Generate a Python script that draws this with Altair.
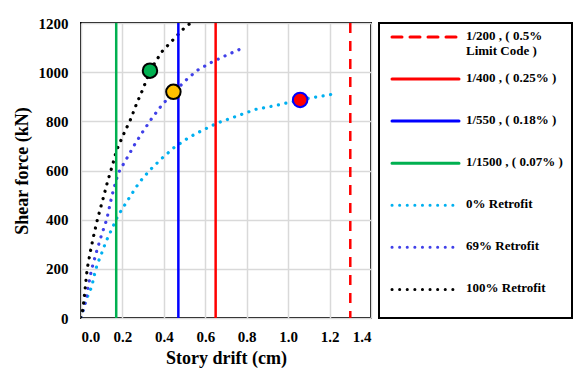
import altair as alt
import pandas as pd

# ---------------- data ----------------
series_names = ["1/200 , ( 0.5%|Limit Code )", "1/400 , ( 0.25% )", "1/550 , ( 0.18% )",
                "1/1500 , ( 0.07% )", "0% Retrofit", "69% Retrofit", "100% Retrofit"]
series_colors = ["#FF0000", "#FF0000", "#0000FF", "#00B050", "#00B0F0", "#4040E8", "#000000"]
series_dash = [[10, 8], [1, 0], [1, 0], [1, 0], [0.1, 7.5], [0.1, 7.5], [0.1, 7.5]]

limit_names = series_names[:4]
limit_x = [1.3, 0.65, 0.47, 0.17]

x_r0 = [0, 0.019, 0.035, 0.052, 0.068, 0.08, 0.095, 0.108, 0.124, 0.156, 0.172, 0.193, 0.237,
        0.28, 0.333, 0.39, 0.449, 0.515, 0.55, 0.655, 0.768, 0.845, 0.926, 1.0, 1.058, 1.12,
        1.195, 1.238]
y_r0 = [0, 60, 94, 128, 188, 222, 252, 283, 317, 375, 405, 436, 494, 550, 602, 649, 693, 731,
        748, 792, 826, 849, 862, 876, 887, 897, 907, 916]

x_r69 = [0, 0.02, 0.035, 0.052, 0.075, 0.10, 0.124, 0.15, 0.18, 0.22, 0.26, 0.30, 0.34, 0.39,
         0.45, 0.51, 0.56, 0.63, 0.70, 0.78]
y_r69 = [0, 60, 130, 200, 270, 340, 400, 500, 590, 648, 707, 760, 810, 866, 920, 970, 1007,
         1040, 1068, 1098]

x_r100 = [0, 0.01, 0.02, 0.03, 0.045, 0.06, 0.079, 0.095, 0.108, 0.129, 0.151, 0.172, 0.208,
          0.24, 0.269, 0.30, 0.333, 0.39, 0.446, 0.50, 0.53]
y_r100 = [0, 40, 120, 200, 270, 330, 400, 450, 490, 557, 619, 683, 752, 809, 873, 933, 1006,
          1083, 1133, 1181, 1200]

marker_x = [0.333, 0.446, 1.058]
marker_y = [1006, 920, 887]
marker_fill = ["#00B050", "#FFC000", "#FF0000"]
marker_stroke = ["#000000", "#000000", "#0000FF"]

x_ticks = [0, 0.2, 0.4, 0.6, 0.8, 1.0, 1.2, 1.4]
y_ticks = [0, 200, 400, 600, 800, 1000, 1200]

# ---------------- tables ----------------
curves = pd.concat([
    pd.DataFrame({"x": x_r0, "y": y_r0, "name": series_names[4]}),
    pd.DataFrame({"x": x_r69, "y": y_r69, "name": series_names[5]}),
    pd.DataFrame({"x": x_r100, "y": y_r100, "name": series_names[6]}),
], ignore_index=True)
curves["order"] = curves.index
limits = pd.DataFrame({"x": limit_x, "name": limit_names})
markers = pd.DataFrame({"x": marker_x, "y": marker_y, "fill": marker_fill, "stroke": marker_stroke})
legend_df = pd.DataFrame({"name": series_names, "row": list(range(len(series_names)))})

FONT = "Liberation Serif"
axis_style = dict(grid=True, gridColor="#D9D9D9", gridWidth=1.5, domain=False, ticks=False,
                  labelFont=FONT, labelFontWeight="bold", labelFontSize=15, labelColor="black",
                  titleFont=FONT, titleFontWeight="bold", titleFontSize=18, titleColor="black")

color = alt.Color("name:N", scale=alt.Scale(domain=series_names, range=series_colors), legend=None)
dash = alt.StrokeDash("name:N", scale=alt.Scale(domain=series_names, range=series_dash), legend=None)

xenc = alt.X("x:Q", scale=alt.Scale(domain=[0, 1.4], nice=False),
             axis=alt.Axis(values=x_ticks, format=".1f", title="Story drift (cm)",
                           labelPadding=11, titlePadding=5, **axis_style))
yenc = alt.Y("y:Q", scale=alt.Scale(domain=[0, 1200], nice=False),
             axis=alt.Axis(values=y_ticks, format="d", title="Shear force (kN)",
                           labelPadding=13, titlePadding=7, **axis_style))

lines = alt.Chart(curves).mark_line(strokeWidth=3.2, strokeCap="round", clip=True).encode(
    x=xenc, y=yenc, color=color, strokeDash=dash, order="order:Q", detail="name:N")

rules = alt.Chart(limits).mark_rule(strokeWidth=2.5).encode(
    x=alt.X("x:Q"), color=color, strokeDash=dash)

points = alt.Chart(markers).mark_point(filled=True, size=210, strokeWidth=2, opacity=1).encode(
    x="x:Q", y="y:Q",
    fill=alt.Fill("fill:N", scale=None),
    stroke=alt.Stroke("stroke:N", scale=None))

main = alt.layer(lines, rules, points).properties(width=290, height=295)

# ---------------- legend panel ----------------
lyenc = alt.Y("row:Q", scale=alt.Scale(domain=[6.68, -0.33], nice=False, zero=False), axis=None)
leg_lines = alt.Chart(legend_df).mark_rule(strokeWidth=3, strokeCap="round").encode(
    x=alt.value(13), x2=alt.value(80), y=lyenc, color=color, strokeDash=dash)
leg_text = alt.Chart(legend_df).mark_text(
    align="left", baseline="top", dy=-7, font=FONT, fontWeight="bold", fontSize=13,
    lineBreak="|", lineHeight=15, color="black").encode(
    x=alt.value(87), y=lyenc, text="name:N")
legend_panel = alt.layer(leg_lines, leg_text).properties(width=193, height=295)

chart = alt.hconcat(main, legend_panel, spacing=6).properties(
    padding={"left": 4, "top": 7, "right": 0, "bottom": 2}
).configure_view(
    stroke="black", strokeWidth=2
)

chart.save("out.html", embed_options={"renderer": "svg", "actions": False})
